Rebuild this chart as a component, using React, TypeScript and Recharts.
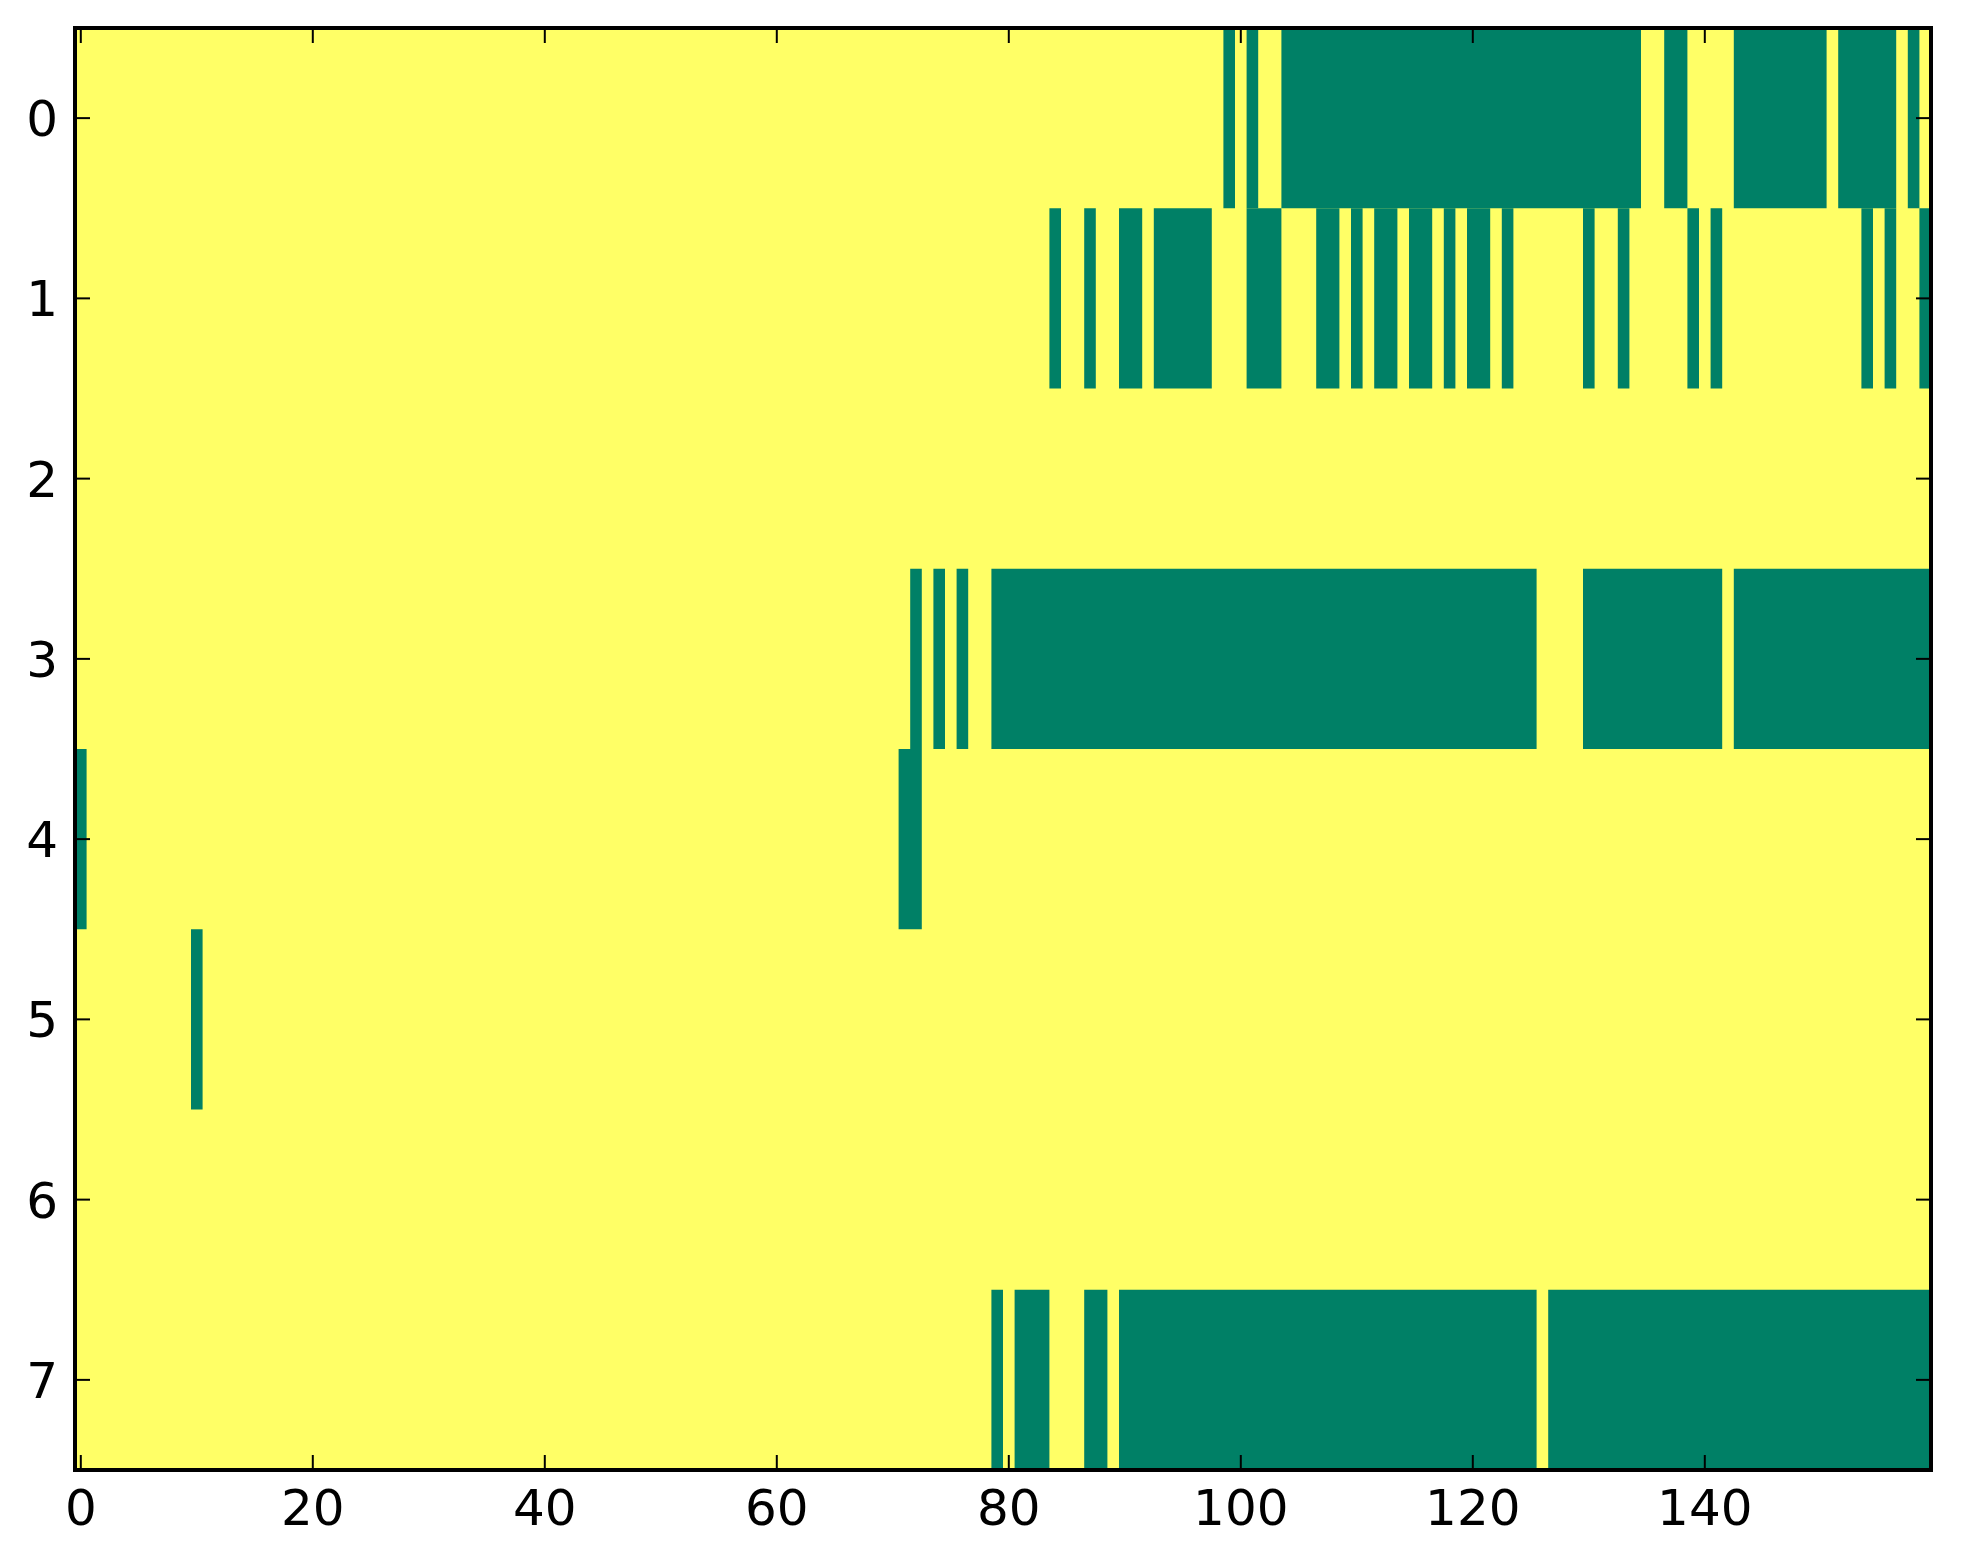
import { ComposedChart, XAxis, YAxis, ReferenceArea, Scatter } from 'recharts';

// green (value 0) runs per row, as [firstColumn, lastColumn]; everything else is yellow (value 1)
const row0 = [[99, 99], [101, 101], [104, 134], [137, 138], [143, 150], [152, 156], [158, 158]];
const row1 = [
  [84, 84], [87, 87], [90, 91], [93, 97], [101, 103], [107, 108], [110, 110], [112, 113],
  [115, 116], [118, 118], [120, 121], [123, 123], [130, 130], [133, 133], [139, 139],
  [141, 141], [154, 154], [156, 156], [159, 159],
];
const row2: number[][] = [];
const row3 = [[72, 72], [74, 74], [76, 76], [79, 125], [130, 141], [143, 159]];
const row4 = [[0, 0], [71, 72]];
const row5 = [[10, 10]];
const row6: number[][] = [];
const row7 = [[79, 79], [81, 83], [87, 88], [90, 125], [127, 159]];

const greenRuns = [row0, row1, row2, row3, row4, row5, row6, row7];
const nCols = 160;
const rowTicks = [0, 1, 2, 3, 4, 5, 6, 7];
const colTicks = [0, 20, 40, 60, 80, 100, 120, 140];

// image extent (pixel edges), only used to bind the axes
const extent = [
  { x: -0.5, y: -0.5 },
  { x: nCols - 0.5, y: rowTicks.length - 0.5 },
];

const LOW = '#008066';
const HIGH = '#ffff66';
const FONT = 'DejaVu Sans, sans-serif';

const BottomTick = ({ x, y, payload }: any) => (
  <g>
    <line x1={x} x2={x} y1={y} y2={y - 15} stroke="#000" strokeWidth={2} />
    <text x={x} y={y + 55} textAnchor="middle" fontSize={50} fontFamily={FONT} fill="#000">
      {payload.value}
    </text>
  </g>
);

const TopTick = ({ x, y }: any) => (
  <line x1={x} x2={x} y1={y} y2={y + 15} stroke="#000" strokeWidth={2} />
);

const LeftTick = ({ x, y, payload }: any) => (
  <g>
    <line x1={x} x2={x + 15} y1={y} y2={y} stroke="#000" strokeWidth={2} />
    <text x={x - 17} y={y + 18} textAnchor="end" fontSize={50} fontFamily={FONT} fill="#000">
      {payload.value}
    </text>
  </g>
);

const RightTick = ({ x, y }: any) => (
  <line x1={x} x2={x - 15} y1={y} y2={y} stroke="#000" strokeWidth={2} />
);

const Nothing = () => <g />;

export default function App() {
  const axisLine = { stroke: '#000', strokeWidth: 4 };
  return (
    <div style={{ position: 'absolute', left: 0, top: 0, width: 1963, height: 1564, background: '#fff' }}>
      <ComposedChart width={1963} height={1564} margin={{ top: 27, right: 31, bottom: 0, left: 0 }}>
        <XAxis
          xAxisId="b"
          dataKey="x"
          type="number"
          domain={[-0.5, nCols - 0.5]}
          ticks={colTicks}
          interval={0}
          allowDataOverflow
          height={94}
          tickSize={0}
          tickMargin={0}
          axisLine={axisLine}
          tick={<BottomTick />}
        />
        <XAxis
          xAxisId="t"
          dataKey="x"
          orientation="top"
          type="number"
          domain={[-0.5, nCols - 0.5]}
          ticks={colTicks}
          interval={0}
          allowDataOverflow
          height={1}
          tickSize={0}
          tickMargin={0}
          axisLine={axisLine}
          tick={<TopTick />}
        />
        <YAxis
          yAxisId="l"
          dataKey="y"
          type="number"
          domain={[-0.5, rowTicks.length - 0.5]}
          reversed
          ticks={rowTicks}
          interval={0}
          allowDataOverflow
          width={75}
          tickSize={0}
          tickMargin={0}
          axisLine={axisLine}
          tick={<LeftTick />}
        />
        <YAxis
          yAxisId="r"
          dataKey="y"
          orientation="right"
          type="number"
          domain={[-0.5, rowTicks.length - 0.5]}
          reversed
          ticks={rowTicks}
          interval={0}
          allowDataOverflow
          width={1}
          tickSize={0}
          tickMargin={0}
          axisLine={axisLine}
          tick={<RightTick />}
        />
        <Scatter xAxisId="b" yAxisId="l" data={extent} dataKey="y" shape={<Nothing />} isAnimationActive={false} />
        <Scatter xAxisId="t" yAxisId="r" data={extent} dataKey="y" shape={<Nothing />} isAnimationActive={false} />
        <ReferenceArea
          xAxisId="b"
          yAxisId="l"
          x1={-0.5}
          x2={nCols - 0.5}
          y1={-0.5}
          y2={rowTicks.length - 0.5}
          fill={HIGH}
          fillOpacity={1}
          stroke="none"
        />
        {greenRuns.map((runs, r) =>
          runs.map(([a, b], i) => (
            <ReferenceArea
              key={`g-${r}-${i}`}
              xAxisId="b"
              yAxisId="l"
              x1={a - 0.5}
              x2={b + 0.5}
              y1={r - 0.5}
              y2={r + 0.5}
              fill={LOW}
              fillOpacity={1}
              stroke="none"
            />
          ))
        )}
        {/* axes frame drawn last so it sits over the image */}
        <ReferenceArea
          xAxisId="b"
          yAxisId="l"
          x1={-0.5}
          x2={nCols - 0.5}
          y1={-0.5}
          y2={rowTicks.length - 0.5}
          fill="none"
          stroke="#000"
          strokeWidth={4}
        />
      </ComposedChart>
    </div>
  );
}
